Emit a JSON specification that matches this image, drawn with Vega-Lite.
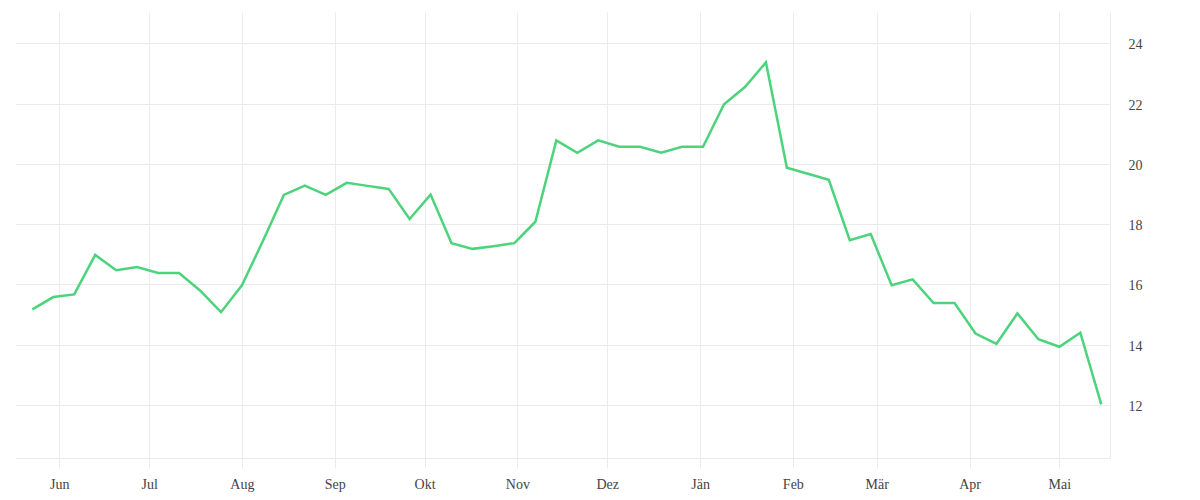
{
  "$schema": "https://vega.github.io/schema/vega-lite/v6.json",
  "autosize": "none",
  "width": 1095,
  "height": 446,
  "padding": {"left": 15, "top": 12, "right": 90, "bottom": 42},
  "background": "white",
  "config": {
    "view": {"stroke": null},
    "font": "Liberation Serif"
  },
  "data": {
    "values": [
      {"date": "2022-05-23", "value": 15.17},
      {"date": "2022-05-30", "value": 15.58},
      {"date": "2022-06-06", "value": 15.67},
      {"date": "2022-06-13", "value": 16.98},
      {"date": "2022-06-20", "value": 16.47},
      {"date": "2022-06-27", "value": 16.58},
      {"date": "2022-07-04", "value": 16.38},
      {"date": "2022-07-11", "value": 16.38},
      {"date": "2022-07-18", "value": 15.8},
      {"date": "2022-07-25", "value": 15.08},
      {"date": "2022-08-01", "value": 15.97},
      {"date": "2022-08-08", "value": 17.44},
      {"date": "2022-08-15", "value": 18.97},
      {"date": "2022-08-22", "value": 19.28},
      {"date": "2022-08-29", "value": 18.97},
      {"date": "2022-09-05", "value": 19.37},
      {"date": "2022-09-12", "value": 19.27},
      {"date": "2022-09-19", "value": 19.17},
      {"date": "2022-09-26", "value": 18.17},
      {"date": "2022-10-03", "value": 18.98},
      {"date": "2022-10-10", "value": 17.37},
      {"date": "2022-10-17", "value": 17.18},
      {"date": "2022-10-24", "value": 17.27},
      {"date": "2022-10-31", "value": 17.37},
      {"date": "2022-11-07", "value": 18.08},
      {"date": "2022-11-14", "value": 20.78},
      {"date": "2022-11-21", "value": 20.37},
      {"date": "2022-11-28", "value": 20.78},
      {"date": "2022-12-05", "value": 20.57},
      {"date": "2022-12-12", "value": 20.57},
      {"date": "2022-12-19", "value": 20.37},
      {"date": "2022-12-26", "value": 20.57},
      {"date": "2023-01-02", "value": 20.57},
      {"date": "2023-01-09", "value": 21.98},
      {"date": "2023-01-16", "value": 22.55},
      {"date": "2023-01-23", "value": 23.37},
      {"date": "2023-01-30", "value": 19.87},
      {"date": "2023-02-06", "value": 19.67},
      {"date": "2023-02-13", "value": 19.47},
      {"date": "2023-02-20", "value": 17.47},
      {"date": "2023-02-27", "value": 17.67},
      {"date": "2023-03-06", "value": 15.97},
      {"date": "2023-03-13", "value": 16.17},
      {"date": "2023-03-20", "value": 15.38},
      {"date": "2023-03-27", "value": 15.38},
      {"date": "2023-04-03", "value": 14.37},
      {"date": "2023-04-10", "value": 14.03},
      {"date": "2023-04-17", "value": 15.04},
      {"date": "2023-04-24", "value": 14.18},
      {"date": "2023-05-01", "value": 13.93},
      {"date": "2023-05-08", "value": 14.4},
      {"date": "2023-05-15", "value": 12.02}
    ]
  },
  "mark": {"type": "line", "color": "#4cd37b", "strokeWidth": 2.5, "strokeJoin": "miter"},
  "encoding": {
    "x": {
      "field": "date",
      "type": "temporal",
      "title": null,
      "scale": {
        "type": "utc",
        "domain": [
          {"year": 2022, "month": 5, "date": 17, "hours": 5, "utc": true},
          {"year": 2023, "month": 5, "date": 17, "hours": 22, "utc": true}
        ],
        "nice": false
      },
      "axis": {
        "tickCount": {"interval": "month", "step": 1},
        "labelExpr": "['Jän','Feb','Mär','Apr','Mai','Jun','Jul','Aug','Sep','Okt','Nov','Dez'][utcmonth(datum.value)]",
        "grid": true,
        "gridColor": "#ebebeb",
        "gridWidth": 1,
        "domain": true,
        "domainColor": "#ebebeb",
        "domainWidth": 1,
        "ticks": true,
        "tickColor": "#ebebeb",
        "tickSize": 10,
        "labelFontSize": 14,
        "labelColor": "#444444",
        "labelPadding": 9,
        "labelFont": "Liberation Serif"
      }
    },
    "y": {
      "field": "value",
      "type": "quantitative",
      "title": null,
      "scale": {"domain": [10.24, 25.04], "nice": false, "zero": false},
      "axis": {
        "orient": "right",
        "values": [12, 14, 16, 18, 20, 22, 24],
        "grid": true,
        "gridColor": "#ebebeb",
        "gridWidth": 1,
        "domain": true,
        "domainColor": "#ebebeb",
        "ticks": false,
        "labelPadding": 18,
        "labelOffset": 1.5,
        "labelFontSize": 14,
        "labelColor": "#444444",
        "labelFont": "Liberation Serif"
      }
    }
  }
}
